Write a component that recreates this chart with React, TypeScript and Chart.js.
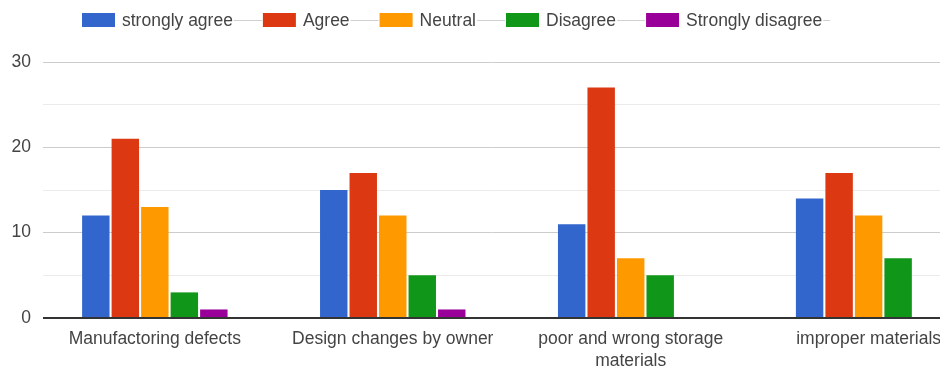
import React, { useEffect, useRef } from "react";
import { Chart, registerables } from "chart.js";

Chart.register(...registerables);

const categories: (string | string[])[] = [
  "Manufactoring defects",
  "Design changes by owner",
  ["poor and wrong storage", "materials"],
  "improper materials",
];
const seriesNames = ["strongly agree", "Agree", "Neutral", "Disagree", "Strongly disagree"];
const seriesColors = ["#3366cc", "#dc3912", "#ff9900", "#109618", "#990099"];
const stronglyAgree = [12, 15, 11, 14];
const agree = [21, 17, 27, 17];
const neutral = [13, 12, 7, 12];
const disagree = [3, 5, 5, 7];
const stronglyDisagree = [1, 1, 0, 0];
const yTicks = [0, 10, 20, 30];

const FONT = 'Arial, "Liberation Sans", sans-serif';

const legendPlugin = {
  id: "gLegend",
  afterDraw(chart: any) {
    const ctx = chart.ctx;
    ctx.save();
    ctx.font = `17.5px ${FONT}`;
    const boxW = 33;
    const boxH = 14;
    const textGap = 7;
    const itemGap = 30;
    const ds = chart.data.datasets;
    const widths = ds.map((d: any) => boxW + textGap + ctx.measureText(d.label).width);
    let x = 82;
    const cy = 20;
    ds.forEach((d: any, i: number) => {
      ctx.fillStyle = d.backgroundColor;
      ctx.fillRect(x, cy - boxH / 2, boxW, boxH);
      ctx.fillStyle = "#444";
      ctx.textBaseline = "middle";
      ctx.textAlign = "left";
      const tx = x + boxW + textGap;
      ctx.fillText(d.label, tx, cy + 1);
      const tw = ctx.measureText(d.label).width;
      const lineEnd = i < ds.length - 1 ? tx + tw + itemGap - 1 : tx + tw + 8;
      ctx.strokeStyle = "#d0d0d0";
      ctx.lineWidth = 1;
      ctx.beginPath();
      ctx.moveTo(tx + tw + 1, cy + 0.5);
      ctx.lineTo(lineEnd, cy + 0.5);
      ctx.stroke();
      x += widths[i] + itemGap;
    });
    ctx.restore();
  },
};

export default function App() {
  const ref = useRef<HTMLCanvasElement | null>(null);
  useEffect(() => {
    if (!ref.current) return;
    const series = [stronglyAgree, agree, neutral, disagree, stronglyDisagree];
    const chart = new Chart(ref.current, {
      type: "bar",
      data: {
        datasets: series.map((vals, si) => ({
          label: seriesNames[si],
          data: vals.map((v, i) => ({ x: i, y: v })),
          backgroundColor: seriesColors[si],
          borderWidth: 0,
          categoryPercentage: 0.62,
          barPercentage: 0.93,
        })),
      },
      options: {
        animation: false,
        responsive: false,
        maintainAspectRatio: false,
        layout: { padding: { top: 62, left: 0, right: 0, bottom: 0 } },
        plugins: { legend: { display: false }, tooltip: { enabled: false } },
        scales: {
          x: {
            type: "linear",
            offset: false,
            min: -0.47,
            max: 3.3,
            border: { display: false },
            grid: { display: false, drawTicks: false, offset: false },
            ticks: {
              stepSize: 1,
              includeBounds: false,
              autoSkip: false,
              maxRotation: 0,
              minRotation: 0,
              padding: 10,
              color: "#444",
              font: { family: FONT, size: 17.5, lineHeight: 1.28 },
              callback: (v: any) => (Number.isInteger(v) && categories[v] !== undefined ? (categories[v] as any) : ""),
            },
            afterFit: (s: any) => {
              s.height = 53;
              s.paddingLeft = 0;
              s.paddingRight = 0;
            },
          },
          y: {
            min: 0,
            max: 30,
            border: { display: false },
            grid: {
              drawTicks: false,
              color: (c: any) => (c.tick.value === 0 ? "#333333" : c.tick.value % 10 === 0 ? "#cccccc" : "#ebebeb"),
              lineWidth: (c: any) => (c.tick.value === 0 ? 2 : 1),
            },
            ticks: {
              stepSize: 5,
              padding: 12,
              color: "#444",
              font: { family: FONT, size: 17.5 },
              callback: (v: any) => (yTicks.includes(v) ? String(v) : ""),
            },
            afterFit: (s: any) => {
              s.width = 43;
              s.paddingTop = 0;
              s.paddingBottom = 0;
            },
          },
        },
      },
      plugins: [legendPlugin],
    });
    return () => chart.destroy();
  }, []);
  return (
    <div style={{ position: "absolute", left: 0, top: 0, width: 940, height: 371, background: "#fff" }}>
      <canvas ref={ref} width={940} height={371} style={{ display: "block", width: 940, height: 371 }} />
    </div>
  );
}
